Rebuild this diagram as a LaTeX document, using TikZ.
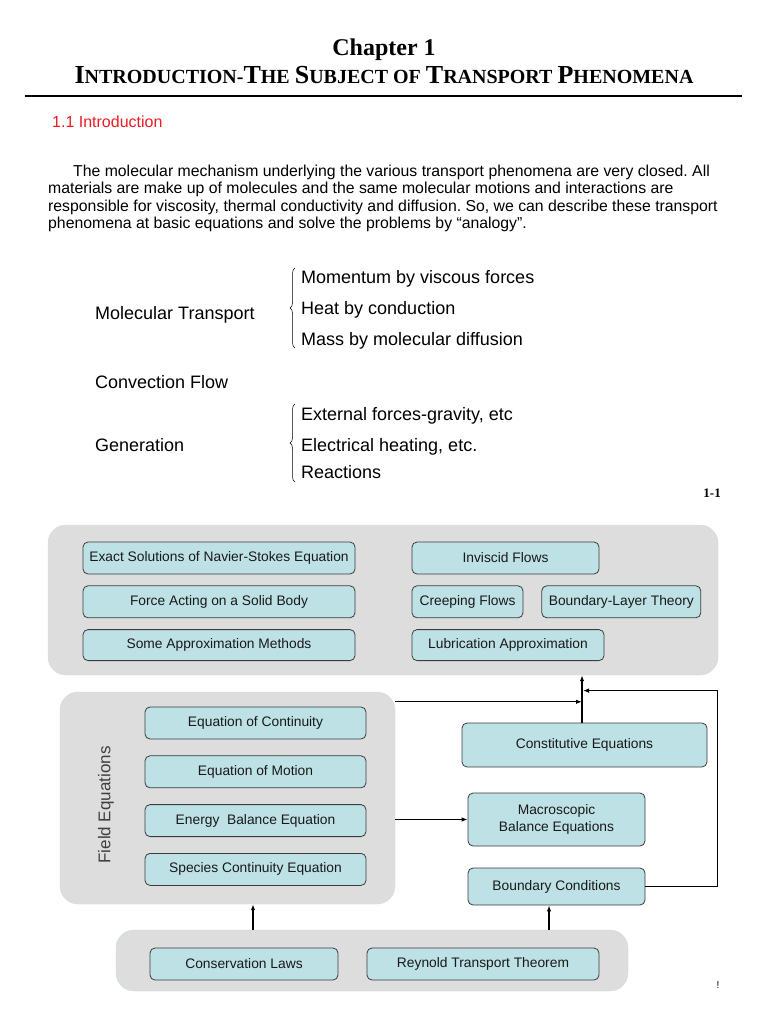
\documentclass[tikz,border=0pt]{standalone}
\usepackage{fontspec}
\setmainfont{Liberation Serif}
\setsansfont{Liberation Sans}
\usetikzlibrary{arrows.meta, calc, positioning, decorations.pathreplacing}

\definecolor{panelgray}{RGB}{221,221,221}
\definecolor{boxfill}{RGB}{189,225,229}
\definecolor{boxrim}{RGB}{60,60,60}
\definecolor{headred}{RGB}{236,28,36}

\newcommand{\fsz}[1]{\fontsize{#1}{1.2\dimexpr#1pt\relax}\selectfont}
\newcommand{\smc}[2]{{\fsz{26}#1}{\fsz{20}#2}}

\begin{document}
\frenchspacing
\begin{tikzpicture}[x=1pt, y=-1pt, node distance=11pt,
	panel/.style={draw=boxfill!40!panelgray, fill=panelgray, rounded corners=18pt, inner sep=0},
	box/.style={draw=boxrim, fill=boxfill, rounded corners=5pt, line width=0.8pt, inner sep=0,
		minimum height=32pt, font=\sffamily\fsz{13.8}, text=black!90, align=center},
	flow/.style={line width=1.3pt, -{Latex[length=6pt, width=4.5pt]}},
	plain/.style={font=\sffamily\fsz{18}, inner sep=0, anchor=base west},
	curly/.style={decorate, decoration={brace, amplitude=5pt}, line width=0.5pt}]

	\fill[white] (0,0) rectangle (768,1024);
	\useasboundingbox (0,0) rectangle (768,1024);

	% heading
	\node (chapter) at (384,56) [anchor=base, font=\bfseries\fsz{24}, inner sep=0] {Chapter 1};
	\node (subject) at (384,84) [anchor=base, font=\bfseries\fsz{20}, inner sep=0]
		{\smc{I}{NTRODUCTION}-\smc{T}{HE} \smc{S}{UBJECT} OF \smc{T}{RANSPORT} \smc{P}{HENOMENA}};
	\draw[line width=2pt] (25,96) -- (742,96);
	\node (section) at (52,128) [anchor=base west, inner sep=0, font=\sffamily\fsz{16}, text=headred] {1.1 Introduction};

	\node (intro) at (48,165) [anchor=north west, inner sep=0, align=left, font=\sffamily\fontsize{15.8}{17.3}\selectfont] {%
		\hspace*{25pt}The molecular mechanism underlying the various transport phenomena are very closed. All\\
		materials are make up of molecules and the same molecular motions and interactions are\\
		responsible for viscosity, thermal conductivity and diffusion. So, we can describe these transport\\
		phenomena at basic equations and solve the problems by “analogy”.};

	% kinds of transport
	\node (moltrans) at (95,319) [plain] {Molecular Transport};
	\node (momentum) at (301,283) [plain] {Momentum by viscous forces};
	\node (heat) at (301,314) [plain] {Heat by conduction};
	\node (mass) at (301,345) [plain] {Mass by molecular diffusion};
	\draw[curly] (295,348) -- (295,268);
	\node (convection) at (95,388) [plain] {Convection Flow};
	\node (generation) at (95,451) [plain] {Generation};
	\node (gravity) at (301,420) [plain] {External forces-gravity, etc};
	\node (electric) at (301,451) [plain] {Electrical heating, etc.};
	\node (reactions) at (301,478) [plain] {Reactions};
	\draw[curly] (295,482) -- (295,404);
	\node (figno) at (721,497) [anchor=base east, inner sep=0, font=\bfseries\fsz{13}] {1-1};

	% panels
	\node (solve) at (383,600) [panel, minimum width=670, minimum height=150] {};
	\node (field) at (227.5,798) [panel, minimum width=335, minimum height=212] {};
	\node (base) at (372,960.5) [panel, minimum width=512, minimum height=61] {};

	% solutions
	\node (exact) at (219,558) [box, minimum width=272] {Exact Solutions of Navier-Stokes Equation};
	\node (force) [box, minimum width=272, below=of exact] {Force Acting on a Solid Body};
	\node (approx) [box, minimum width=272, minimum height=31, below=of force] {Some Approximation Methods};
	\node (inviscid) at (505.5,558) [box, minimum width=187] {Inviscid Flows};
	\node (creeping) [box, minimum width=111, below=of inviscid.south west, anchor=north west] {Creeping Flows};
	\node (layer) [box, minimum width=159, right=18pt of creeping] {Boundary-Layer Theory};
	\node (lubric) [box, minimum width=192, minimum height=31, below=of creeping.south west, anchor=north west] {Lubrication Approximation};

	% field equations
	\node (fieldlabel) at (106,805) [rotate=90, inner sep=0, font=\sffamily\fsz{17}, text=black!75] {Field Equations};
	\node (continuity) at (255.5,723) [box, minimum width=221] {Equation of Continuity};
	\node (motion) [box, minimum width=221, below=16pt of continuity] {Equation of Motion};
	\node (energy) [box, minimum width=221, below=16pt of motion] {Energy\ \ Balance Equation};
	\node (species) [box, minimum width=221, below=16pt of energy] {Species Continuity Equation};

	\node (constit) at (584.5,745) [box, minimum width=245, minimum height=44] {Constitutive Equations};
	\node (macro) at (556.5,819.5) [box, minimum width=177, minimum height=53] {Macroscopic\\Balance Equations};
	\node (bcond) at (556.5,886.5) [box, minimum width=177, minimum height=37] {Boundary Conditions};

	\node (conslaw) at (244,964) [box, minimum width=188] {Conservation Laws};
	\node (reynold) at (483,964) [box, minimum width=232] {Reynold Transport Theorem};

	\node (mark) at (718,988) [anchor=base, inner sep=0, font=\sffamily\fsz{10}] {!};

	% connectors
	\coordinate (join) at ($(constit.north)+(-2.5,0)$);
	\coordinate (fieldout) at ($(field.north east)+(0,10)$);
	\draw[flow] (join) -- (join |- solve.south);
	\draw[flow] (fieldout) -- (fieldout -| join);
	\draw[flow, line width=1pt] (bcond.east) -- ++(72,0) |- ($(join)+(1,-32)$);
	\draw[flow] (macro.west -| field.east) -- (macro.west);
	\draw[flow] ($(conslaw.north |- base.north)+(9,0)$) -- ($(conslaw.north |- field.south)+(9,0)$);
	\draw[flow] ($(bcond.south |- base.north)+(-7.5,0)$) -- ($(bcond.south)+(-7.5,0)$);
\end{tikzpicture}
\end{document}
